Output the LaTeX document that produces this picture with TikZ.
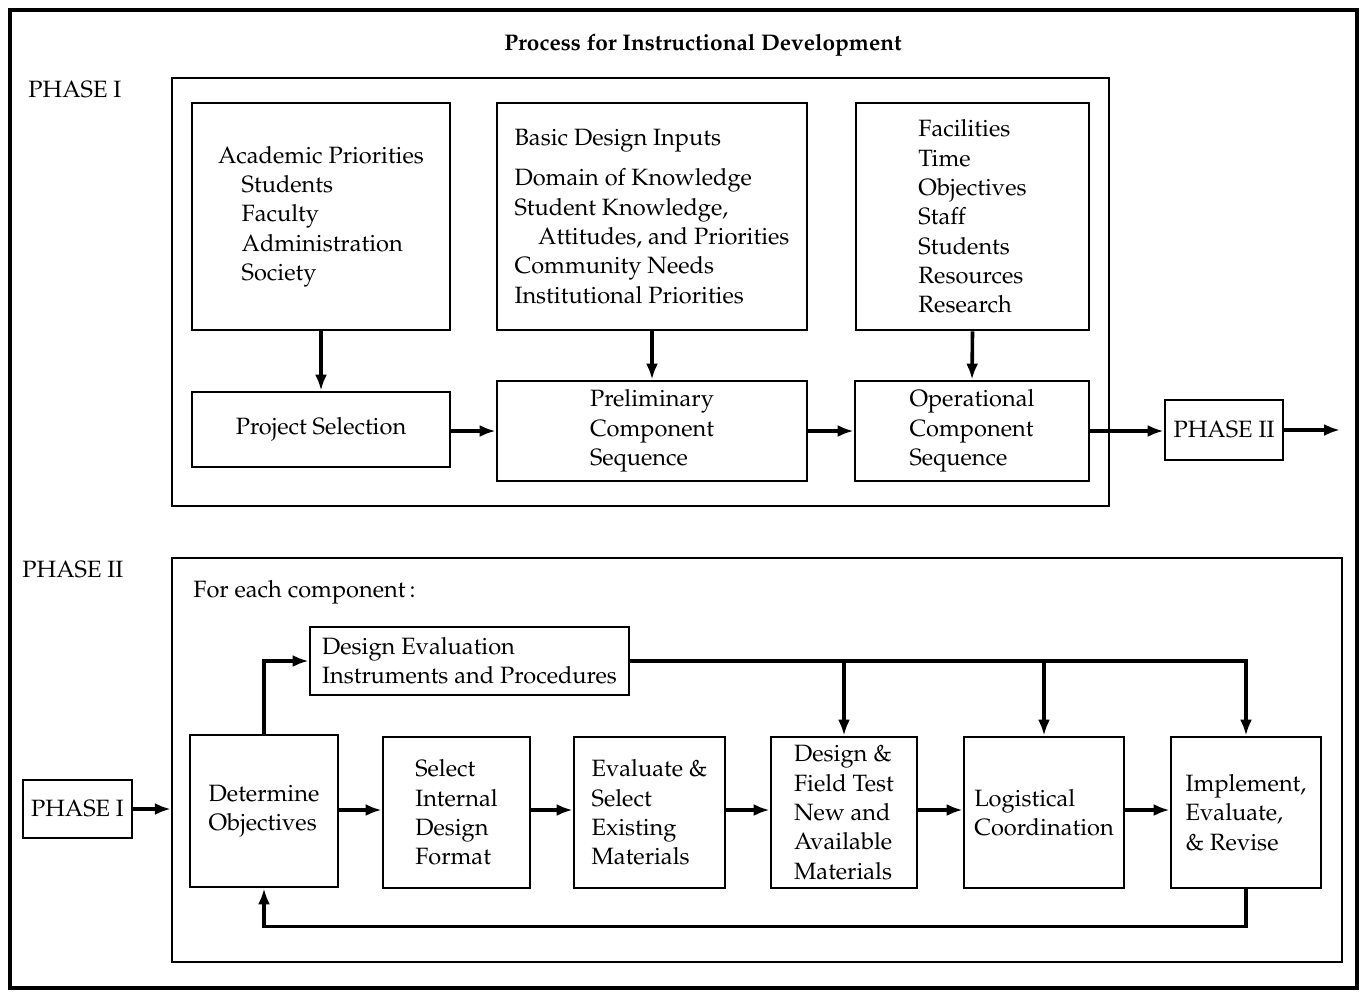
\documentclass[tikz,border=0pt]{standalone}
\usepackage[T1]{fontenc}
\usepackage{mathpazo}
\usetikzlibrary{arrows.meta}
\newcommand\boxfont{\fontsize{11.8}{14.65}\selectfont}
\newcommand\headfont{\fontsize{11.3}{13.5}\selectfont\bfseries}
\tikzstyle{box} = [draw=black, line width=1.4pt, align=left, inner sep=0pt, font=\boxfont]
\tikzstyle{frame} = [draw=black, line width=1.2pt, inner sep=0pt]
\tikzstyle{arrow} = [line width=1.8pt, -{Latex[length=8pt,width=6pt]}]

\begin{document}
\begin{tikzpicture}[x=0.5pt,y=-0.5pt]
  \useasboundingbox (0,0) rectangle (1363,991);
  \draw[line width=1.6pt] (10,10) rectangle (1357,988);

  % phase I
  \node[font=\headfont] (title) at (703,45) {Process for Instructional Development};
  \node[font=\boxfont, anchor=west, inner sep=0pt] (labelI) at (28,90) {PHASE I};
  \node[frame, minimum width=468.5pt, minimum height=214pt] (frameI) at (640.5,292) {};

  \node[box, minimum width=129pt, minimum height=113.5pt] (acad) at (321,216.5)
      {Academic Priorities\\\hspace*{1em}Students\\\hspace*{1em}Faculty\\\hspace*{1em}Administration\\\hspace*{1em}Society};
  \node[box, minimum width=155pt, minimum height=113.5pt] (basic) at (652,216.5)
      {Basic Design Inputs\\[5.5pt]Domain of Knowledge\\Student Knowledge,\\\hspace*{1em}Attitudes, and Priorities\\Community Needs\\Institutional Priorities};
  \node[box, minimum width=116.5pt, minimum height=113.5pt] (facil) at (972.5,216.5)
      {Facilities\\Time\\Objectives\\Staff\\Students\\Resources\\Research};

  \node[box, minimum width=129pt, minimum height=37.5pt] (projsel) at (321,429.5) {Project Selection};
  \node[box, minimum width=155pt, minimum height=50pt] (prelim) at (652,431) {Preliminary\\Component\\Sequence};
  \node[box, minimum width=117pt, minimum height=50pt] (operat) at (972,431) {Operational\\Component\\Sequence};
  \node[box, minimum width=59pt, minimum height=30pt] (phasetwo) at (1224,430) {PHASE II};
  \coordinate (outII) at (1340,430);

  \draw[arrow] (acad.south) -- (projsel.north);
  \draw[arrow] (basic.south) -- (prelim.north);
  \draw[arrow] (facil.south) -- (operat.north);
  \draw[arrow] (projsel.east |- prelim.west) -- (prelim.west);
  \draw[arrow] (prelim.east) -- (operat.west);
  \draw[arrow] (operat.east) -- (operat.east -| phasetwo.west);
  \draw[arrow] (phasetwo.east) -- (outII);

  % phase II
  \node[font=\boxfont, anchor=west, inner sep=0pt] (labelII) at (22,570) {PHASE II};
  \node[frame, minimum width=585pt, minimum height=202pt] (frameII) at (757,760) {};
  \node[font=\boxfont, anchor=west, inner sep=0pt] (each) at (193,592) {For each component\,:};

  \node[box, minimum width=159.5pt, minimum height=34pt] (deseval) at (469.5,661)
      {Design Evaluation\\Instruments and Procedures};
  \node[box, minimum width=54.5pt, minimum height=29pt] (phaseone) at (77.5,809) {PHASE I};
  \node[box, minimum width=74pt, minimum height=76pt] (detobj) at (264,811) {Determine\\Objectives};
  \node[box, minimum width=73.5pt, minimum height=75.5pt] (selint) at (456.5,812.5) {Select\\Internal\\Design\\Format};
  \node[box, minimum width=75.5pt, minimum height=75.5pt] (evalsel) at (649.5,812.5) {Evaluate \&\\Select\\Existing\\Materials};
  \node[box, minimum width=73pt, minimum height=75.5pt] (desfield) at (844,812.5) {Design \&\\Field Test\\New and\\Available\\Materials};
  \node[box, minimum width=80pt, minimum height=75.5pt] (logist) at (1044,812.5) {Logistical\\Coordination};
  \node[box, minimum width=75pt, minimum height=75.5pt] (implem) at (1246,812.5) {Implement,\\Evaluate,\\\& Revise};

  \draw[arrow] (phaseone.east) -- (phaseone.east -| frameII.west);
  \draw[arrow] (detobj.east |- 0,810) -- (selint.west |- 0,810);
  \draw[arrow] (selint.east |- 0,810) -- (evalsel.west |- 0,810);
  \draw[arrow] (evalsel.east |- 0,810) -- (desfield.west |- 0,810);
  \draw[arrow] (desfield.east |- 0,810) -- (logist.west |- 0,810);
  \draw[arrow] (logist.east |- 0,810) -- (implem.west |- 0,810);

  \draw[arrow] (detobj.north) |- (deseval.west);
  \draw[arrow] (deseval.east) -| (implem.north);
  \draw[arrow] (deseval.east -| desfield.north) -- (desfield.north);
  \draw[arrow] (deseval.east -| logist.north) -- (logist.north);
  \draw[arrow] (implem.south) -- ++(0,37) -| (detobj.south);
\end{tikzpicture}
\end{document}
